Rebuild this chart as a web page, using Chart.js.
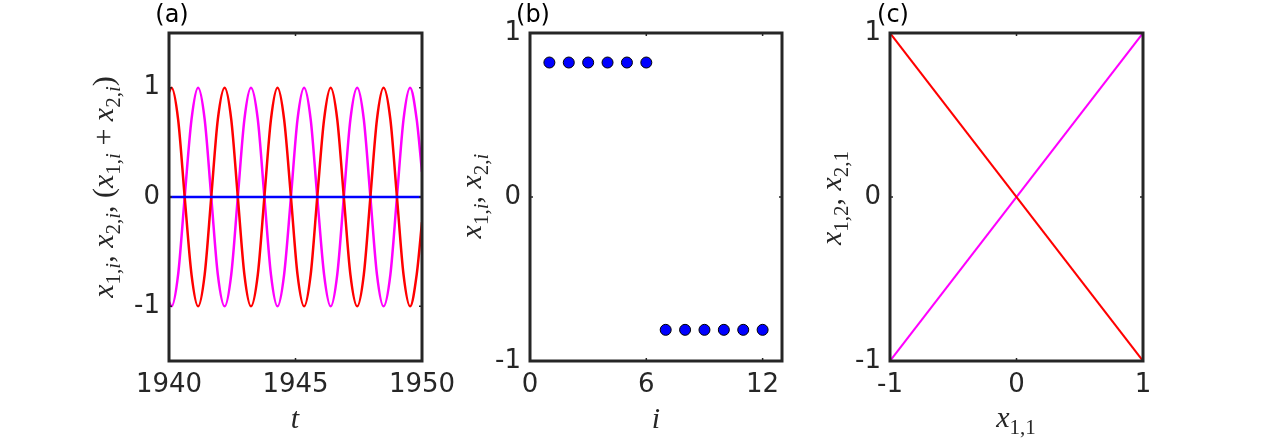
<!DOCTYPE html>
<html>
<head>
<meta charset="utf-8">
<title>Two-oscillator states</title>
<script src="https://cdn.jsdelivr.net/npm/chart.js@4.4.1/dist/chart.umd.min.js"></script>
<style>
  html, body { margin: 0; padding: 0; background: #ffffff; }
  #wrap { position: relative; width: 1284px; height: 439px; overflow: hidden; }
  #wrap canvas { position: absolute; left: 0; top: 0; }
</style>
</head>
<body>
<div id="wrap">
  <canvas id="panelA" width="1284" height="439"></canvas>
  <canvas id="panelB" width="1284" height="439"></canvas>
  <canvas id="panelC" width="1284" height="439"></canvas>
</div>
<script>
// ---- (a) time series ----
const tYears = [
  1940.00, 1940.10, 1940.36, 1940.62, 1940.89, 1941.15, 1941.41, 1941.67, 1941.93, 1942.20,
  1942.46, 1942.72, 1942.98, 1943.24, 1943.51, 1943.77, 1944.03, 1944.29, 1944.55, 1944.82,
  1945.08, 1945.34, 1945.60, 1945.86, 1946.13, 1946.39, 1946.65, 1946.91, 1947.17, 1947.44,
  1947.70, 1947.96, 1948.22, 1948.48, 1948.75, 1949.01, 1949.27, 1949.53, 1949.79, 1950.00
];
const x1Values = [
  0.96, 1, 0.71, 0, -0.71, -1, -0.71, 0, 0.71, 1,
  0.71, 0, -0.71, -1, -0.71, 0, 0.71, 1, 0.71, 0,
  -0.71, -1, -0.71, 0, 0.71, 1, 0.71, 0, -0.71, -1,
  -0.71, 0, 0.71, 1, 0.71, 0, -0.71, -1, -0.71, -0.23
];
const x2Values = [
  -0.96, -1, -0.71, 0, 0.71, 1, 0.71, 0, -0.71, -1,
  -0.71, 0, 0.71, 1, 0.71, 0, -0.71, -1, -0.71, 0,
  0.71, 1, 0.71, 0, -0.71, -1, -0.71, 0, 0.71, 1,
  0.71, 0, -0.71, -1, -0.71, 0, 0.71, 1, 0.71, 0.23
];
const sumYears = [1940, 1950];
const sumValues = [0, 0];
const tTicks = [1940, 1945, 1950];
const aYTicks = [-1, 0, 1];

// ---- (b) node states ----
const nodeIndex = [1, 2, 3, 4, 5, 6, 7, 8, 9, 10, 11, 12];
const nodeValues = [0.82, 0.82, 0.82, 0.82, 0.82, 0.82, -0.81, -0.81, -0.81, -0.81, -0.81, -0.81];
const iTicks = [0, 6, 12];
const bYTicks = [-1, 0, 1];

// ---- (c) phase portrait ----
const phaseX = [-1, 1];
const redPhase = [1, -1];
const magentaPhase = [-1, 1];
const cXTicks = [-1, 0, 1];
const cYTicks = [-1, 0, 1];

const INK = '#262626';
const TICK_FONT = '"DejaVu Sans", sans-serif';
const MATH_FONT = '"Liberation Serif", "DejaVu Serif", serif';

function pairs(xs, ys) {
  return xs.map((x, i) => ({ x: x, y: ys[i] }));
}

// draws a small tex-like label: x_{1,i} gets a lowered subscript
function drawMath(ctx, src, x, y, size, vertical) {
  const subSize = Math.round(size * 0.7);
  const runs = [];
  for (let i = 0; i < src.length; i++) {
    if (src[i] === '_' && src[i + 1] === '{') {
      const end = src.indexOf('}', i);
      for (const ch of src.slice(i + 2, end)) runs.push({ ch: ch, sub: true });
      i = end;
    } else {
      runs.push({ ch: src[i], sub: false });
    }
  }
  const fontFor = r => {
    const s = r.sub ? subSize : size;
    const it = /[a-z]/i.test(r.ch) ? 'italic ' : '';
    return it + s + 'px ' + MATH_FONT;
  };
  ctx.save();
  let total = 0;
  runs.forEach(r => {
    ctx.font = fontFor(r);
    r.w = ctx.measureText(r.ch).width;
    total += r.w;
  });
  ctx.translate(x, y);
  if (vertical) ctx.rotate(-Math.PI / 2);
  ctx.fillStyle = INK;
  ctx.textAlign = 'left';
  ctx.textBaseline = 'alphabetic';
  let cx = -total / 2;
  runs.forEach(r => {
    ctx.font = fontFor(r);
    ctx.fillText(r.ch, cx, r.sub ? size * 0.22 : 0);
    cx += r.w;
  });
  ctx.restore();
}

const panelDecor = {
  id: 'panelDecor',
  afterDraw(chart, args, opts) {
    const ctx = chart.ctx;
    const a = chart.chartArea;
    const sx = chart.scales.x;
    const sy = chart.scales.y;
    ctx.save();
    // small inward tick marks
    ctx.strokeStyle = INK;
    ctx.lineWidth = 1.5;
    ctx.beginPath();
    sx.ticks.forEach(t => {
      const px = sx.getPixelForValue(t.value);
      ctx.moveTo(px, a.top); ctx.lineTo(px, a.top + 3);
      ctx.moveTo(px, a.bottom); ctx.lineTo(px, a.bottom - 3);
    });
    sy.ticks.forEach(t => {
      const py = sy.getPixelForValue(t.value);
      ctx.moveTo(a.left, py); ctx.lineTo(a.left + 3, py);
      ctx.moveTo(a.right, py); ctx.lineTo(a.right - 3, py);
    });
    ctx.stroke();
    // axes box
    ctx.lineWidth = 3;
    ctx.strokeRect(a.left, a.top, a.right - a.left, a.bottom - a.top);
    // panel letter
    ctx.fillStyle = '#000000';
    ctx.font = '24px ' + TICK_FONT;
    ctx.textAlign = 'center';
    ctx.textBaseline = 'middle';
    ctx.fillText(opts.letter, opts.letterX, opts.letterY);
    ctx.restore();
    drawMath(ctx, opts.xLabel, opts.xLabelX, opts.xLabelY, 30, false);
    drawMath(ctx, opts.yLabel, opts.yLabelX, opts.yLabelY, 30, true);
  }
};

function axis(min, max, tickValues, fixedSize, isX) {
  return {
    type: 'linear',
    min: min,
    max: max,
    grid: { display: false, drawTicks: false },
    border: { display: false },
    ticks: {
      color: INK,
      font: { family: TICK_FONT, size: 26 },
      padding: 9,
      maxRotation: 0,
      autoSkip: false,
      callback: v => String(v)
    },
    afterBuildTicks: s => { s.ticks = tickValues.map(v => ({ value: v })); },
    afterFit: s => { if (isX) s.height = fixedSize; else s.width = fixedSize; }
  };
}

function baseOptions(pad, xScale, yScale, decor) {
  return {
    responsive: false,
    animation: false,
    devicePixelRatio: 1,
    layout: { padding: pad },
    plugins: {
      legend: { display: false },
      tooltip: { enabled: false },
      panelDecor: decor
    },
    scales: { x: xScale, y: yScale }
  };
}

// (a)
new Chart(document.getElementById('panelA'), {
  type: 'line',
  data: {
    datasets: [
      { data: pairs(sumYears, sumValues), borderColor: '#0000ff', borderWidth: 2.5, pointRadius: 0 },
      { data: pairs(tYears, x1Values), borderColor: '#ff0000', borderWidth: 2.5, pointRadius: 0, cubicInterpolationMode: 'monotone' },
      { data: pairs(tYears, x2Values), borderColor: '#ff00ff', borderWidth: 2.5, pointRadius: 0, cubicInterpolationMode: 'monotone' }
    ]
  },
  options: baseOptions(
    { left: 109, right: 862, top: 33, bottom: 18 },
    axis(1940, 1950, tTicks, 60, true),
    axis(-1.5, 1.5, aYTicks, 60, false),
    { letter: '(a)', letterX: 172, letterY: 16,
      xLabel: 't', xLabelX: 295, xLabelY: 428,
      yLabel: 'x_{1,i}, x_{2,i}, (x_{1,i} + x_{2,i})', yLabelX: 113, yLabelY: 187 }
  ),
  plugins: [panelDecor]
});

// (b)
new Chart(document.getElementById('panelB'), {
  type: 'scatter',
  data: {
    datasets: [
      { data: pairs(nodeIndex, nodeValues), pointRadius: 5.5, pointBackgroundColor: '#0000ff',
        pointBorderColor: '#000000', pointBorderWidth: 1, showLine: false }
    ]
  },
  options: baseOptions(
    { left: 470, right: 502, top: 33, bottom: 18 },
    axis(0, 13, iTicks, 60, true),
    axis(-1, 1, bYTicks, 60, false),
    { letter: '(b)', letterX: 533, letterY: 16,
      xLabel: 'i', xLabelX: 656, xLabelY: 428,
      yLabel: 'x_{1,i}, x_{2,i}', yLabelX: 481, yLabelY: 196 }
  ),
  plugins: [panelDecor]
});

// (c)
new Chart(document.getElementById('panelC'), {
  type: 'line',
  data: {
    datasets: [
      { data: pairs(phaseX, redPhase), borderColor: '#ff0000', borderWidth: 2, pointRadius: 0 },
      { data: pairs(phaseX, magentaPhase), borderColor: '#ff00ff', borderWidth: 2, pointRadius: 0 }
    ]
  },
  options: baseOptions(
    { left: 830, right: 141, top: 33, bottom: 18 },
    axis(-1, 1, cXTicks, 60, true),
    axis(-1, 1, cYTicks, 60, false),
    { letter: '(c)', letterX: 893, letterY: 16,
      xLabel: 'x_{1,1}', xLabelX: 1016, xLabelY: 427,
      yLabel: 'x_{1,2}, x_{2,1}', yLabelX: 841, yLabelY: 198 }
  ),
  plugins: [panelDecor]
});
</script>
</body>
</html>
